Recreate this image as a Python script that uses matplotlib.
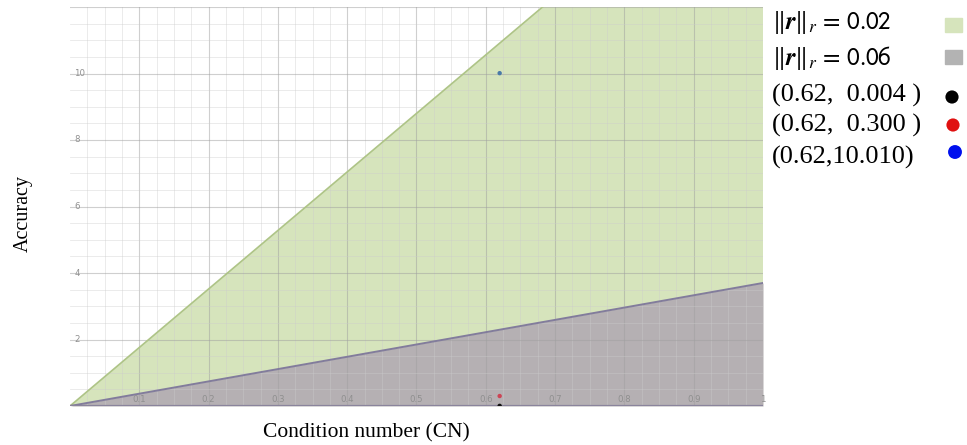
import numpy as np
import matplotlib
matplotlib.use("Agg")
import matplotlib.pyplot as plt
from matplotlib.patches import Rectangle

plt.rcParams['mathtext.fontset'] = 'stix'

# Condition number axis and the two accuracy bounds (value at CN = 0 and CN = 1)
cn = [0.0, 1.0]
bound_r002 = [0.0, 17.6]
bound_r006 = [0.0, 3.7]
norm_labels = [r"$\Vert\boldsymbol{r}\Vert_{r}\,=\,\mathsf{0.02}$",
               r"$\Vert\boldsymbol{r}\Vert_{r}\,=\,\mathsf{0.06}$"]

# Sample points
pts_x = [0.62, 0.62, 0.62]
pts_y = [0.004, 0.300, 10.010]
pts_labels = ["(0.62,  0.004 )", "(0.62,  0.300 )", "(0.62,10.010)"]

x_ticks = [0.1, 0.2, 0.3, 0.4, 0.5, 0.6, 0.7, 0.8, 0.9, 1.0]
x_tick_labels = ["0.1", "0.2", "0.3", "0.4", "0.5", "0.6", "0.7", "0.8", "0.9", "1"]
y_ticks = [2, 4, 6, 8, 10]

W, H = 967, 445
fig = plt.figure(figsize=(W / 100, H / 100), dpi=100)
ax = fig.add_axes([70 / W, (H - 406) / H, 693 / W, 399 / H])
ax.set_xlim(0, 1)
ax.set_ylim(0, 12)
for s in ax.spines.values():
    s.set_visible(False)
ax.set_xticks([])
ax.set_yticks([])

# shaded regions
xx = np.array(cn)
ax.fill_between(xx, 0, np.array(bound_r002), color="#d6e4bc", zorder=1, lw=0)
ax.plot(xx, bound_r002, color="#aec487", lw=1.2, zorder=4)
ax.fill_between(xx, 0, np.array(bound_r006), color="#b5b0b3", zorder=2, lw=0)
ax.plot(xx, bound_r006, color="#827c9c", lw=1.4, zorder=4)

# grid
for v in np.arange(0.025, 1.0, 0.025):
    major = abs(v * 10 - round(v * 10)) < 1e-6
    ax.axvline(v, color="#a0a0a0" if major else "#cccccc",
               lw=0.8 if major else 0.6, alpha=0.5 if major else 0.45, zorder=3)
for v in np.arange(0.5, 12.01, 0.5):
    major = abs(v / 2 - round(v / 2)) < 1e-6
    ax.axhline(v, color="#a0a0a0" if major else "#cccccc",
               lw=0.8 if major else 0.6, alpha=0.5 if major else 0.45, zorder=3)
ax.axhline(0, color="#8a849c", lw=1.6, zorder=5)

# axis numbers
for t, lab in zip(x_ticks, x_tick_labels):
    ax.text(t, 0.2, lab, fontsize=6.2, color="#8f8f8f", ha="center",
            va="center", zorder=6)
for t in y_ticks:
    ax.text(0.006, t, str(t), fontsize=6.2, color="#8f8f8f", ha="left",
            va="center", zorder=6)

# sample points
ax.scatter(pts_x, pts_y, s=[10, 10, 10], c=["#111111", "#cc4455", "#4a7aa8"],
           zorder=7, clip_on=True, linewidths=0)

# axis titles
fig.text(23 / W, 1 - 213 / H, "Accuracy", rotation=90, fontsize=14.5,
         family="Liberation Serif", ha="center", va="center")
fig.text(366 / W, 1 - 433 / H, "Condition number (CN)", fontsize=15.5,
         family="Liberation Serif", ha="center", va="center")

# key
label_y = [22, 58, 95, 125, 157]
for y, lab in zip(label_y[:2], norm_labels):
    fig.text(772 / W, 1 - y / H, lab, fontsize=18, ha="left", va="center")
for y, lab in zip(label_y[2:], pts_labels):
    fig.text(772 / W, 1 - y / H, lab, fontsize=19, family="Liberation Serif",
             ha="left", va="center")

fig.patches.append(Rectangle((945 / W, 1 - 32 / H), 17 / W, 14 / H,
                             transform=fig.transFigure, color="#d6e4bc"))
fig.patches.append(Rectangle((945 / W, 1 - 64 / H), 17 / W, 14 / H,
                             transform=fig.transFigure, color="#b3b3b3"))
key_ax = fig.add_axes([0, 0, 1, 1], facecolor="none")
key_ax.set_xlim(0, W)
key_ax.set_ylim(H, 0)
key_ax.axis("off")
key_ax.scatter([952, 953, 955], [97, 125, 152], s=[90, 90, 100],
               c=["#000000", "#e01010", "#0010ee"], linewidths=0)

fig.savefig("out.png", dpi=100)
